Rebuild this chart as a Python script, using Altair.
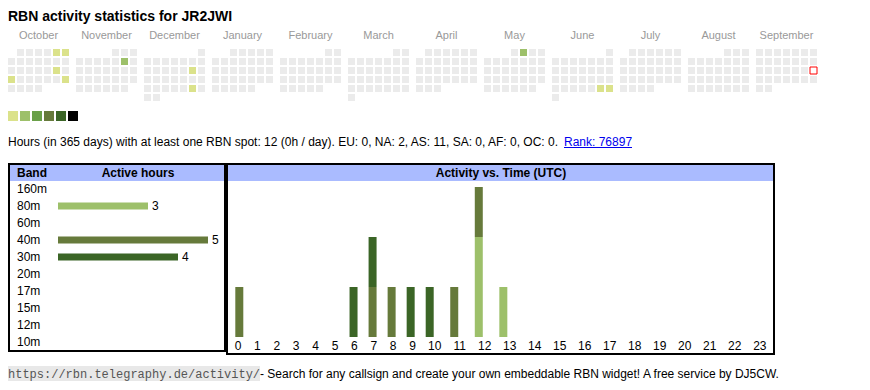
import altair as alt
import pandas as pd

# ---------------- data ----------------
TITLE = "RBN activity statistics for JR2JWI"
cal_start, cal_end = "2024-10-01", "2025-09-30"
today = "2025-09-21"
active_days = ["2024-10-05", "2024-10-06", "2024-10-19", "2024-10-21", "2024-10-27",
               "2024-11-09", "2024-12-14", "2024-12-28", "2025-05-02",
               "2025-06-28", "2025-06-29"]
active_levels = [1, 1, 1, 1, 1, 2, 1, 1, 2, 1, 1]
legend_levels = [1, 2, 3, 4, 5, 6]
level_colors = ["#ebebeb", "#dbe28b", "#9dc06a", "#6aa049", "#667a3b", "#3b6526", "#000000"]

bands = ["160m", "80m", "60m", "40m", "30m", "20m", "17m", "15m", "12m", "10m"]
band_hours = [0, 3, 0, 5, 4, 0, 0, 0, 0, 0]
stack_bands = ["80m", "40m", "30m"]
stack_colors = ["#9dc06a", "#667a3b", "#3b6526"]

hours = list(range(24))
hourly_80m = [0, 0, 0, 0, 0, 0, 0, 0, 0, 0, 0, 0, 2, 1, 0, 0, 0, 0, 0, 0, 0, 0, 0, 0]
hourly_40m = [1, 0, 0, 0, 0, 0, 0, 1, 1, 0, 0, 1, 1, 0, 0, 0, 0, 0, 0, 0, 0, 0, 0, 0]
hourly_30m = [0, 0, 0, 0, 0, 0, 1, 1, 0, 1, 1, 0, 0, 0, 0, 0, 0, 0, 0, 0, 0, 0, 0, 0]

summary = ("Hours (in 365 days) with at least one RBN spot: 12 (0h / day). "
           "EU: 0, NA: 2, AS: 11, SA: 0, AF: 0, OC: 0.")
rank_text = "Rank: 76897"
footer_url = "https://rbn.telegraphy.de/activity/"
footer_text = " - Search for any callsign and create your own embeddable RBN widget! A free service by DJ5CW."

FONT = "Liberation Sans"
MONO = "Liberation Mono"
FS = 12

# ---------------- tables ----------------
days = pd.date_range(cal_start, cal_end, freq="D")
cal = pd.DataFrame({"date": days})
cal["month"] = cal["date"].dt.strftime("%B")
cal["weekday"] = cal["date"].dt.weekday
first_wd = (cal["date"] - pd.to_timedelta(cal["date"].dt.day - 1, unit="D")).dt.weekday
cal["row"] = (cal["date"].dt.day - 1 + first_wd) // 7
cal["ds"] = cal["date"].dt.strftime("%Y-%m-%d")
lvl = dict(zip(active_days, active_levels))
cal["level"] = cal["ds"].map(lambda d: lvl.get(d, 0))
months = list(dict.fromkeys(cal["month"]))
cal = cal.drop(columns=["date"])
today_df = cal[cal["ds"] == today]
month_df = pd.DataFrame({"month": months})
legend_df = pd.DataFrame({"level": legend_levels})

band_df = pd.DataFrame({"band": bands, "hours": band_hours})
band_bar_df = band_df[band_df["hours"] > 0]

# HTML-table-like hour columns: width grows with the label's digit count
hdf = pd.DataFrame({"hour": hours, "label": [str(h) for h in hours]})
hdf["w"] = 2.46 + hdf["label"].str.len()
hdf["x0"] = hdf["w"].cumsum() - hdf["w"]
hdf["xc"] = hdf["x0"] + hdf["w"] / 2
total_w = float(hdf["w"].sum())
rows = []
for rank, (b, vals) in enumerate(zip(stack_bands, [hourly_80m, hourly_40m, hourly_30m])):
    for h, v in zip(hours, vals):
        if v > 0:
            rows.append({"hour": h, "band": b, "count": v, "rank": rank,
                         "x0": float(hdf.loc[h, "x0"])})
hour_bar_df = pd.DataFrame(rows)

# ---------------- scales ----------------
month_scale = alt.Scale(type="band", domain=months, range=[0, 809], paddingInner=7 / 68, paddingOuter=0)
wd_scale = alt.Scale(type="band", domain=list(range(7)), paddingInner=2 / 9, paddingOuter=0)
row_scale = alt.Scale(type="band", domain=list(range(6)), range=[41, 93], paddingInner=2 / 9, paddingOuter=0)
level_scale = alt.Scale(domain=list(range(7)), range=level_colors)
band_y = alt.Scale(type="band", domain=bands, range=[172.5, 342.5], paddingInner=10 / 17, paddingOuter=5 / 17)
band_x = alt.Scale(domain=[0, 5], range=[50, 200])
band_color = alt.Scale(domain=stack_bands, range=stack_colors)
hour_x = alt.Scale(domain=[0, total_w], range=[220.3, 764.3])
hour_y = alt.Scale(domain=[0, 3], range=[329, 179])


def label(text, x, y, **kw):
    opts = dict(font=FONT, fontSize=FS, align="left", baseline="alphabetic", color="black")
    opts.update(kw)
    return alt.Chart(month_df).transform_filter("datum.month == 'October'").mark_text(text=text, **opts).encode(
        x=alt.value(x), y=alt.value(y))


def box(x, x2, y, y2, **kw):
    return alt.Chart(month_df).transform_filter("datum.month == 'October'").mark_rect(**kw).encode(
        x=alt.value(x), x2=alt.value(x2), y=alt.value(y), y2=alt.value(y2))


title = label(TITLE, 0, 13, fontSize=14, fontWeight="bold")

month_labels = alt.Chart(month_df).mark_text(font=FONT, fontSize=11, color="#999999",
                                             baseline="alphabetic").encode(
    x=alt.X("month:N", scale=month_scale, axis=None, bandPosition=0.5),
    y=alt.value(31),
    text="month:N")

cells = alt.Chart(cal).mark_rect().encode(
    x=alt.X("month:N", scale=month_scale, axis=None),
    xOffset=alt.XOffset("weekday:O", scale=wd_scale),
    y=alt.Y("row:O", scale=row_scale, axis=None),
    color=alt.Color("level:O", scale=level_scale, legend=None))

today_box = alt.Chart(today_df).mark_rect(fill="white", stroke="red", strokeWidth=1).encode(
    x=alt.X("month:N", scale=month_scale, axis=None),
    xOffset=alt.XOffset("weekday:O", scale=wd_scale),
    y=alt.Y("row:O", scale=row_scale, axis=None))

legend_sq = alt.Chart(legend_df).mark_rect().encode(
    x=alt.X("level:O", scale=alt.Scale(type="band", domain=legend_levels, range=[0, 70],
                                       paddingInner=2 / 12, paddingOuter=0), axis=None),
    y=alt.value(103), y2=alt.value(113),
    color=alt.Color("level:O", scale=level_scale, legend=None))

summary_t = label(summary, 0, 138)
rank_t = label(rank_text, 556, 138, color="#0000ee")
rank_u = box(556, 624, 139, 140, color="#0000ee")

# tables
hdr_left = box(2, 216, 157, 173, color="#aabbff")
hdr_right = box(220, 765, 157, 173, color="#aabbff")
brd_left = box(1, 217, 156, 343, fillOpacity=0, stroke="black", strokeWidth=2)
brd_right = box(219, 766, 156, 346, fillOpacity=0, stroke="black", strokeWidth=2)
h_band = label("Band", 9, 169, fontWeight="bold")
h_active = label("Active hours", 130, 169, fontWeight="bold", align="center")
h_time = label("Activity vs. Time (UTC)", 493, 169, fontWeight="bold", align="center")

band_labels = alt.Chart(band_df).mark_text(font=FONT, fontSize=FS, align="left", baseline="middle",
                                           color="black").encode(
    x=alt.value(9),
    y=alt.Y("band:N", scale=band_y, axis=None, bandPosition=0.5),
    text="band:N")

band_bars = alt.Chart(band_bar_df).mark_bar().encode(
    x=alt.X("hours:Q", scale=band_x, axis=None),
    y=alt.Y("band:N", scale=band_y, axis=None),
    color=alt.Color("band:N", scale=band_color, legend=None))

band_vals = alt.Chart(band_bar_df).mark_text(font=FONT, fontSize=FS, align="left", baseline="middle",
                                             dx=4, color="black").encode(
    x=alt.X("hours:Q", scale=band_x, axis=None),
    y=alt.Y("band:N", scale=band_y, axis=None, bandPosition=0.5),
    text="hours:Q")

hour_bars = alt.Chart(hour_bar_df).mark_bar(size=8, xOffset=6).encode(
    x=alt.X("x0:Q", scale=hour_x, axis=None),
    y=alt.Y("count:Q", stack="zero", scale=hour_y, axis=None),
    color=alt.Color("band:N", scale=band_color, legend=None),
    order=alt.Order("rank:Q"))

hour_labels = alt.Chart(hdf).mark_text(font=FONT, fontSize=FS, align="center", baseline="alphabetic",
                                       color="black").encode(
    x=alt.X("xc:Q", scale=hour_x, axis=None),
    y=alt.value(342),
    text="label:N")

foot_bg = box(0, 252, 358, 373, color="#e8e8e8")
foot_url = label(footer_url, 0, 370, font=MONO, fontSize=12, color="#555555")
foot_txt = label(footer_text, 252, 370)

chart = alt.layer(
    hdr_left, hdr_right, brd_left, brd_right,
    title, month_labels, cells, today_box, legend_sq,
    summary_t, rank_t, rank_u,
    h_band, h_active, h_time,
    band_labels, band_bars, band_vals,
    hour_bars, hour_labels,
    foot_bg, foot_url, foot_txt,
).resolve_scale(
    x="independent", y="independent", color="independent"
).properties(
    width=854, height=374, padding=0,
    autosize=alt.AutoSizeParams(type="none"),
    background="white",
).configure_view(stroke=None)

chart.save("out.html", embed_options={"renderer": "svg", "actions": False})
